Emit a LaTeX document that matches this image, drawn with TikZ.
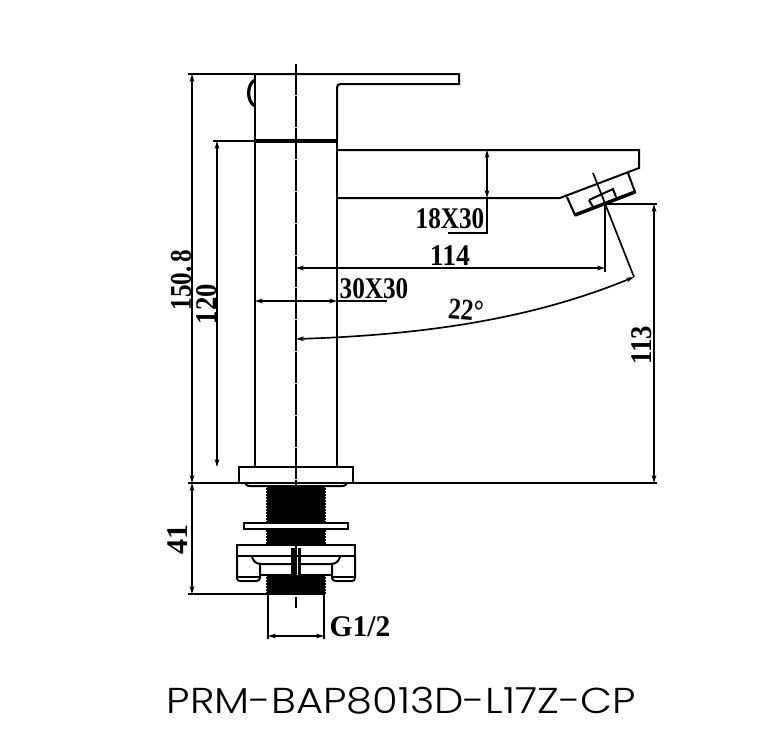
\documentclass[tikz,border=0pt]{standalone}
\usepackage{fontspec}
\usepackage{tikz}
\usetikzlibrary{arrows.meta}
\newfontfamily\dimfont{Liberation Serif}
\newfontfamily\capfont{Poppins Light}
\tikzset{
  body/.style={line width=1.5pt,line join=miter},
  dimline/.style={line width=1.25pt},
  dimtip/.style={dimline,{Stealth[length=6pt,width=3.6pt]}-{Stealth[length=6pt,width=3.6pt]}},
  center/.style={line width=1.7pt,dash pattern=on 23pt off 1pt},
  dimtext/.style={inner sep=0.75pt,font=\dimfont\bfseries\fontsize{22.5}{24}\selectfont,xscale=0.84},
}
\begin{document}
\begin{tikzpicture}[x=0.75pt,y=0.75pt,yscale=-1,xscale=1]
\useasboundingbox (0,0) rectangle (779,733);

%Shape: Handle
\draw [body] (255,74) -- (459,74) -- (459,84) -- (341,84) .. controls (338,84) and (337,85) .. (337,88) -- (337,140);
%Shape: Knob
\draw [line width=2.4pt] (255,80) .. controls (246.5,84) and (246.5,102) .. (255,106);
%Shape: Body
\draw [body] (255,74) -- (255,467);
\draw [body] (337,140) -- (337,467);
\draw [line width=3pt] (255,140.5) -- (337,140.5);
%Shape: Spout
\draw [body] (337,150) -- (639,150) -- (639,168) -- (560,198) -- (337,198);
%Shape: Aerator
\draw [body] (567,197) -- (575,215) -- (635,192) -- (628,173);
\draw [line width=2.6pt] (575,215) -- (635,192);
\draw [body] (589,200) -- (613,189) -- (616,197);
\draw [body] (589,200) -- (593,207);
%Shape: Flange
\draw [body] (239,483) -- (239,467) -- (353,467) -- (353,483);
\draw [body] (245,483) .. controls (247,486) and (248,486) .. (250,486) -- (342,486) .. controls (344,486) and (345,486) .. (347,483);
%Shape: Threads
\fill (267,486) rectangle (325,545);
\fill (267,575) rectangle (325,595);
\foreach \ty in {488,491,...,543,577,580,...,593} {
  \fill (266,\ty) rectangle (326,\ty+1.5);
}
%Shape: Washer
\filldraw [body,fill=white] (244,523) rectangle (348,529);
%Shape: Nut
\draw [body] (237,545) rectangle (355,556);
\draw [body] (237,556) -- (237,578) .. controls (237,580) and (238,581) .. (240,581) -- (256,581) .. controls (258,581) and (260,580) .. (260,578) -- (260,564);
\draw [body] (355,556) -- (355,578) .. controls (355,580) and (354,581) .. (352,581) -- (336,581) .. controls (334,581) and (332,580) .. (332,578) -- (332,564);
\draw [body] (252,557) .. controls (254,562) and (256,564) .. (262,564) -- (291,564);
\draw [body] (340,557) .. controls (338,562) and (336,564) .. (330,564) -- (301,564);
\draw [body] (260,575) -- (291,575);
\draw [body] (332,575) -- (301,575);
\draw [line width=1pt] (238,577) -- (259,577);
\draw [line width=1pt] (333,577) -- (354,577);
\fill (291,548) rectangle (294.5,575);
\fill (298,548) rectangle (301,575);
%Shape: Pipe
\draw [body] (268,595) -- (268,639);
\draw [body] (324,595) -- (324,639);

%Straight Lines: center
\draw [center] (296,64) -- (296,490);
\draw [line width=1.6pt] (296,546) -- (296,575);
\draw [line width=1.6pt] (296,597) -- (296,608);
%Straight Lines: extension
\draw [dimline] (188,74) -- (255,74);
\draw [dimline] (213,141) -- (255,141);
\draw [dimline] (188,483) -- (657,483);
\draw [dimline] (188,594) -- (267,594);
\draw [dimline] (605,204) -- (657,204);
\draw [dimline] (605,204) -- (605,272);
\draw [dimline] (593,173) -- (634,277);
%Straight Lines: dimensions
\draw [dimtip] (192,74) -- (192,483);
\draw [dimtip] (192,483) -- (192,594);
\draw [dimtip] (217,141) -- (217,467);
\draw [dimtip] (654,204) -- (654,483);
\draw [dimtip] (487,150) -- (487,198);
\draw [dimline] (487,198) -- (487,233) -- (448,233);
\draw [dimtip] (296,268) -- (605,268);
\draw [dimtip] (255,301) -- (337,301);
\draw [dimline] (337,301) -- (387,301);
\draw [dimtip] (268,636) -- (324,636);
\draw [dimtip] (296,339) .. controls (420,335) and (530,320) .. (634,277);

% Text Node
\draw (181,280) node (lblheight) [rotate=90,dimtext] {150.\,8};
% Text Node
\draw (207,304) node (lblbody) [rotate=90,dimtext,xscale=1.06] {120};
% Text Node
\draw (642,345) node (lblspout) [rotate=90,dimtext,xscale=1.06] {113};
% Text Node
\draw (178,539) node (lblshank) [rotate=90,dimtext,xscale=1.2] {41};
% Text Node
\draw (450,219) node (lblsection) [dimtext] {18X30};
% Text Node
\draw (450,256) node (lblreach) [dimtext,xscale=1.1] {114};
% Text Node
\draw (374,289) node (lblsquare) [dimtext] {30X30};
% Text Node
\draw (466,310) node (lblangle) [rotate=-5,dimtext] {22°};
% Text Node
\draw (360,627) node (lblthread) [dimtext,xscale=1.17] {G1/2};
% Text Node
\draw (401.5,700.5) node (lblmodel) [inner sep=0.75pt,font=\capfont\fontsize{27}{30}\selectfont,xscale=1.155] {PRM-BAP8013D-L17Z-CP};
\end{tikzpicture}
\end{document}
